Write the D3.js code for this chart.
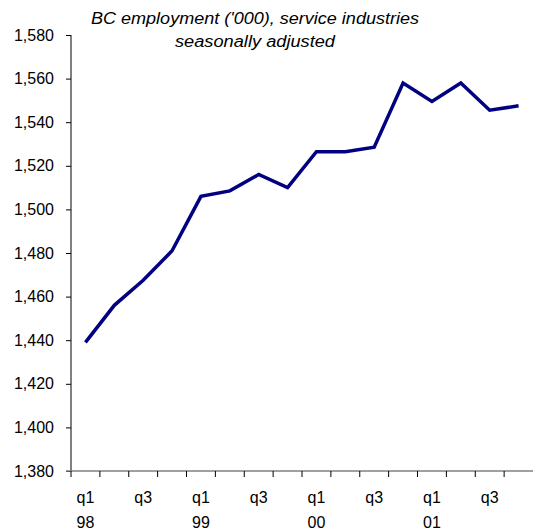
<!DOCTYPE html>
<html>
<head>
<meta charset="utf-8">
<script src="https://cdn.jsdelivr.net/npm/d3@7"></script>
<style>
  body { margin: 0; background: white; overflow: hidden; }
  svg { display: block; font-family: "Liberation Sans", Arial, sans-serif; }
</style>
</head>
<body>
<div id="chart"></div>
<script>
const quarters = ["98q1","98q2","98q3","98q4","99q1","99q2","99q3","99q4",
                  "00q1","00q2","00q3","00q4","01q1","01q2","01q3","01q4"];
const employment = [1439, 1456, 1467.5, 1481, 1506, 1508.5, 1516, 1510,
                    1526.5, 1526.5, 1528.5, 1558, 1549.5, 1558, 1545.5, 1547.5];
const yTicks = [1380, 1400, 1420, 1440, 1460, 1480, 1500, 1520, 1540, 1560, 1580];
const titleLines = ["BC employment ('000), service industries", "seasonally adjusted"];

const Width = 533, Height = 532;
const Margin = { top: 35, left: 71 };
const innerW = 462;   // last band runs just past the window edge
const innerH = 436;

const svg = d3.select('#chart').append('svg')
  .attr('width', Width).attr('height', Height);
const g = svg.append('g').attr('transform', `translate(${Margin.left},${Margin.top})`);

const x = d3.scaleBand().domain(quarters).range([0, innerW]);
const y = d3.scaleLinear().domain([1380, 1580]).range([innerH, 0]);

// y axis
const yAxis = g.append('g').call(d3.axisLeft(y).tickValues(yTicks)
  .tickFormat(d3.format(',')).tickSize(5).tickPadding(12));
yAxis.select('.domain').attr('stroke', '#808080').attr('stroke-width', 2)
  .attr('d', `M0,0V${innerH}`);
yAxis.selectAll('.tick line').attr('stroke', '#000');
yAxis.selectAll('.tick text').attr('font-size', 16).attr('fill', '#000')
  .attr('font-family', '"Liberation Sans", Arial, sans-serif');

// x axis: ticks on band boundaries
const xAxisG = g.append('g').attr('transform', `translate(0,${innerH})`);
xAxisG.append('line').attr('x1', -5).attr('x2', innerW)
  .attr('stroke', '#808080').attr('stroke-width', 1.5);
const boundaries = quarters.map(q => x(q));
xAxisG.selectAll('.xt').data(boundaries).enter().append('line')
  .attr('x1', d => d).attr('x2', d => d).attr('y1', 0).attr('y2', 6)
  .attr('stroke', '#000');
const labelled = quarters.filter((q, i) => i % 2 === 0);
const lab = xAxisG.selectAll('.xl').data(labelled).enter().append('text')
  .attr('text-anchor', 'middle').attr('font-size', 16).attr('fill', '#000');
lab.append('tspan').attr('x', d => x(d) + x.bandwidth() / 2).attr('y', 32)
  .text(d => d.slice(2));
lab.append('tspan').attr('x', d => x(d) + x.bandwidth() / 2).attr('y', 57)
  .text(d => d.slice(2) === 'q1' ? d.slice(0, 2) : '');

// line
const line = d3.line()
  .x((d, i) => x(quarters[i]) + x.bandwidth() / 2)
  .y(d => y(d));
g.append('path').datum(employment)
  .attr('fill', 'none').attr('stroke', '#000080').attr('stroke-width', 3.5)
  .attr('stroke-linejoin', 'miter').attr('d', line);

// title
const titleWidths = [328, 160];
svg.selectAll('.title').data(titleLines).enter().append('text')
  .attr('x', 255).attr('y', (d, i) => 24 + i * 23)
  .attr('text-anchor', 'middle').attr('font-size', 16).attr('font-style', 'italic')
  .attr('textLength', (d, i) => titleWidths[i]).attr('lengthAdjust', 'spacingAndGlyphs')
  .text(d => d);
</script>
</body>
</html>
